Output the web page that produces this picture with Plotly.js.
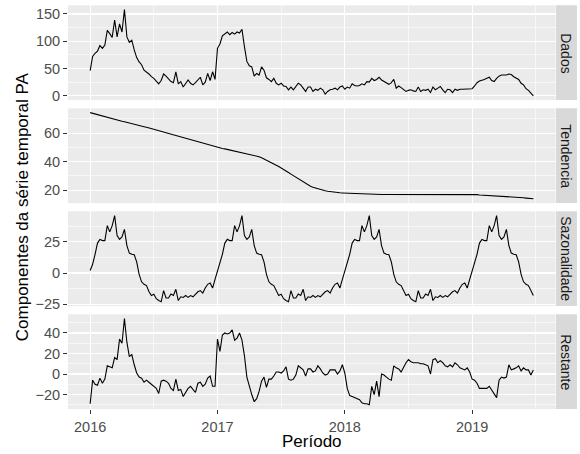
<!DOCTYPE html>
<html>
<head>
<meta charset="utf-8">
<script src="https://cdn.plot.ly/plotly-3.0.1.min.js"></script>
<style>
  html, body { margin: 0; padding: 0; background: #ffffff; }
  #chart { width: 580px; height: 454px; }
</style>
</head>
<body>
<div id="chart"></div>
<script>
// Weekly series for PA, STL decomposition (start 2016, 52 obs per year)
const startYear = 2016;
const weeksPerYear = 52;

const panelNames = ["Dados", "Tendencia", "Sazonalidade", "Restante"];

const dados = [
  46, 72, 78, 82, 92, 87, 93, 120, 114, 107,
  139, 108, 132, 117, 158, 108, 98, 102, 84, 70,
  62, 57, 47, 44, 40, 35, 32, 27, 22, 28,
  40, 36, 30, 26, 24, 44, 22, 26, 16, 23,
  29, 23, 20, 24, 30, 34, 20, 25, 41, 28,
  44, 30, 87, 95, 110, 114, 117, 112, 116, 113,
  117, 115, 122, 90, 63, 55, 53, 36, 41, 38,
  53, 47, 33, 30, 26, 32, 23, 20, 23, 18,
  17, 11, 16, 11, 18, 23, 20, 13, 8, 16,
  16, 8, 12, 10, 14, 11, 3, 8, 11, 12,
  14, 11, 16, 18, 12, 16, 14, 22, 19, 18,
  19, 22, 20, 26, 25, 32, 28, 30, 34, 29,
  26, 23, 21, 24, 30, 14, 18, 15, 11, 8,
  10, 11, 9, 8, 16, 8, 11, 10, 12, 6,
  16, 11, 14, 17, 11, 6, 12, 11, 6, 12,
  10, 12, 12, 12, 12, 12, 13, 18, 24, 27,
  28, 30, 32, 34, 28, 26, 32, 36, 38, 38,
  38, 40, 39, 35, 33, 30, 23, 20, 13, 10,
  5, 0
];

const tendencia = [
  74.4, 73.9, 73.4, 72.9, 72.4, 72.0, 71.5, 71.0, 70.6, 70.2,
  69.7, 69.3, 68.8, 68.4, 68.0, 67.5, 67.1, 66.7, 66.2, 65.8,
  65.4, 65.0, 64.5, 64.1, 63.7, 63.2, 62.8, 62.3, 61.8, 61.3,
  60.8, 60.3, 59.8, 59.3, 58.8, 58.3, 57.8, 57.3, 56.8, 56.3,
  55.8, 55.3, 54.8, 54.3, 53.8, 53.3, 52.8, 52.3, 51.8, 51.3,
  50.8, 50.4, 50.0, 49.6, 49.3, 49.0, 48.6, 48.3, 48.0, 47.6,
  47.3, 47.0, 46.6, 46.3, 45.9, 45.5, 45.1, 44.6, 44.1, 43.5,
  42.8, 42.0, 41.1, 40.2, 39.3, 38.4, 37.5, 36.6, 35.7, 34.6,
  33.5, 32.4, 31.3, 30.2, 29.0, 27.8, 26.6, 25.5, 24.5, 23.6,
  22.8, 22.1, 21.5, 20.9, 20.4, 20.0, 19.6, 19.3, 19.0, 18.8,
  18.6, 18.4, 18.2, 18.1, 18.0, 17.9, 17.8, 17.7, 17.6, 17.5,
  17.4, 17.3, 17.2, 17.1, 17.0, 17.0, 17.0, 17.0, 17.0, 17.0,
  17.0, 17.0, 17.0, 17.0, 17.0, 17.0, 17.0, 17.2, 17.4, 17.4,
  17.4, 17.4, 17.4, 17.4, 17.4, 17.4, 17.4, 17.4, 17.4, 17.4,
  17.4, 17.4, 17.4, 17.4, 17.4, 17.4, 17.4, 17.4, 17.4, 17.4,
  17.4, 17.4, 17.4, 17.4, 17.4, 17.4, 17.3, 17.1, 16.9, 16.7,
  16.6, 16.5, 16.5, 16.5, 16.4, 16.2, 16.0, 15.9, 15.8, 15.7,
  15.6, 15.6, 15.6, 15.5, 15.3, 15.1, 14.9, 14.7, 14.5, 14.3,
  14.1, 14.0
];

const sazonalidade = [
  // 2016
  2, 7, 15, 24, 27, 26, 26, 38, 33, 38,
  46, 30, 27, 29, 35, 22, 16, 15, 14.7, 9,
  -1, -7, -9, -10, -14.7, -18, -17, -20.5, -22, -23,
  -14, -20, -20, -16.8, -18, -13, -22, -19, -19.5, -18,
  -19.5, -18, -19, -17, -15, -14, -16, -12, -9, -8,
  -12, -5,
  // 2017
  2, 7, 15, 24, 27, 26, 26, 38, 33, 38,
  46, 30, 27, 29, 35, 22, 16, 15, 14.7, 9,
  -1, -7, -9, -10, -14.7, -18, -17, -20.5, -22, -23,
  -14, -20, -20, -16.8, -18, -13, -22, -19, -19.5, -18,
  -19.5, -18, -19, -17, -15, -14, -16, -12, -9, -8,
  -12, -5,
  // 2018
  2, 7, 15, 24, 27, 26, 26, 38, 33, 38,
  46, 30, 27, 29, 35, 22, 16, 15, 14.7, 9,
  -1, -7, -9, -10, -14.7, -18, -17, -20.5, -22, -23,
  -14, -20, -20, -16.8, -18, -13, -22, -19, -19.5, -18,
  -19.5, -18, -19, -17, -15, -14, -16, -12, -9, -8,
  -12, -5,
  // 2019
  2, 7, 15, 24, 27, 26, 26, 38, 33, 38,
  46, 30, 27, 29, 35, 22, 16, 15, 14.7, 9,
  -1, -7, -9, -10, -14.7, -18
];

const restante = [
  -29, -6, -10, -11, -4, -9, -5, 8, 7, 6,
  16, 14, 34, 30, 54, 31, 17, 19, 9, 1,
  -3, -4, -8, -6, -8, -10, -12, -14, -19, -7,
  -6, -7, -9, -14, -16, -5, -16, -15, -22, -18,
  -14, -12, -15, -18, -9, -8, -12, -10, -4, -2,
  -12, -12, 34, 22, 38, 40, 39, 40, 43, 33,
  35, 40, 33, 18, -3, -13, -20, -27, -24, -17,
  -7, -3, -13, -5, -5, -2, 2, 2, 1, 3,
  7, -5, -6, -5, -1, 8, 6, 4, -2, 5,
  5, 2, 3, 8, 5, 1, -1, 0, 4, 4,
  4, 0, 3, 9, 1, -14, -21, -22, -23, -24,
  -25, -28, -29, -29, -30, -12, -20, -7, -22, 0,
  -1, -3, -5, -6, 8, 6, 5, 2, 7, 11,
  14, 12, 11, 11, 11, 10, 10, 9, 8, 0,
  14, 15, 11, 13, 11, 8, 7, 9, 7, 11,
  9, 6, 5, 4, 6, 2, -5, -6, -9, -14,
  -14, -14, -14, -12, -16, -19, -23, -6, -3, -4,
  -3, 9, 4, 5, 6, 8, 3, 6, 4, 4,
  -1, 4
];

const xTickVals = [2016, 2017, 2018, 2019];
const xTickText = ["2016", "2017", "2018", "2019"];

// ---- geometry (pixels) ----
const W = 580, H = 454;
const plotLeft = 68, plotRight = 555.5;
const panelRows = [[5.3, 100.1], [108.3, 203.1], [211.3, 306.1], [314.3, 409.1]];
const stripLeft = 556, stripRight = 577;

const px = v => v / W;
const py = v => 1 - v / H;

// ggplot-like range: data range expanded by 5% on each side
function expand(arr) {
  let lo = Math.min(...arr), hi = Math.max(...arr);
  const pad = (hi - lo) * 0.05;
  return [lo - pad, hi + pad];
}

const period = dados.map((_, i) => startYear + i / weeksPerYear);
const series = [dados, tendencia, sazonalidade, restante];
const yTick = [
  { dtick: 50, minor: 25 },
  { dtick: 20, minor: 10 },
  { dtick: 25, minor: 12.5 },
  { dtick: 20, minor: 10 }
];

const FONT = "Liberation Sans, Arial, Helvetica, sans-serif";
const xr = expand(period);

const traces = series.map((s, k) => ({
  type: "scatter",
  mode: "lines",
  x: period,
  y: s,
  xaxis: k === 0 ? "x" : "x" + (k + 1),
  yaxis: k === 0 ? "y" : "y" + (k + 1),
  line: { color: "#000000", width: 1.1 },
  hoverinfo: "skip",
  showlegend: false
}));

const layout = {
  width: W,
  height: H,
  margin: { l: 0, r: 0, t: 0, b: 0 },
  paper_bgcolor: "#ffffff",
  plot_bgcolor: "#EBEBEB",
  font: { family: FONT, size: 14, color: "#4D4D4D" },
  showlegend: false,
  shapes: [],
  annotations: []
};

series.forEach((s, k) => {
  const n = k === 0 ? "" : String(k + 1);
  const [top, bottom] = panelRows[k];
  const last = k === series.length - 1;
  layout["xaxis" + n] = {
    domain: [px(plotLeft), px(plotRight)],
    range: xr,
    anchor: "y" + n,
    tickmode: "array",
    tickvals: xTickVals,
    ticktext: xTickText,
    showticklabels: last,
    ticks: last ? "outside" : "",
    ticklen: 4,
    tickwidth: 1,
    tickcolor: "#333333",
    tickfont: { family: FONT, size: 14.5, color: "#4D4D4D" },
    showgrid: true,
    gridcolor: "#FFFFFF",
    gridwidth: 1.2,
    minor: { tickmode: "linear", tick0: 2016.5, dtick: 1, showgrid: true, gridcolor: "#FFFFFF", gridwidth: 0.6, ticks: "" },
    zeroline: false,
    showline: false,
    fixedrange: true
  };
  layout["yaxis" + n] = {
    domain: [py(bottom), py(top)],
    range: expand(s),
    anchor: "x" + n,
    tickmode: "linear",
    tick0: 0,
    dtick: yTick[k].dtick,
    ticks: "outside",
    ticklen: 4,
    tickwidth: 1,
    tickcolor: "#333333",
    tickfont: { family: FONT, size: 14.5, color: "#4D4D4D" },
    showgrid: true,
    gridcolor: "#FFFFFF",
    gridwidth: 1.2,
    minor: { tickmode: "linear", tick0: 0, dtick: yTick[k].minor, showgrid: true, gridcolor: "#FFFFFF", gridwidth: 0.6, ticks: "" },
    zeroline: false,
    showline: false,
    fixedrange: true
  };
  // facet strip on the right
  layout.shapes.push({
    type: "rect", xref: "paper", yref: "paper",
    x0: px(stripLeft), x1: px(stripRight), y0: py(bottom), y1: py(top),
    fillcolor: "#D9D9D9", line: { width: 0 }, layer: "below"
  });
  layout.annotations.push({
    xref: "paper", yref: "paper",
    x: px((stripLeft + stripRight) / 2), y: py((top + bottom) / 2),
    text: panelNames[k], textangle: 90, showarrow: false,
    xanchor: "center", yanchor: "middle",
    font: { family: FONT, size: 14, color: "#1A1A1A" }
  });
});

// shared axis titles
layout.annotations.push({
  xref: "paper", yref: "paper",
  x: px(22), y: py((panelRows[0][0] + panelRows[3][1]) / 2),
  text: "Componentes da série temporal PA", textangle: -90, showarrow: false,
  xanchor: "center", yanchor: "middle",
  font: { family: FONT, size: 17, color: "#000000" }
});
layout.annotations.push({
  xref: "paper", yref: "paper",
  x: px((plotLeft + plotRight) / 2), y: py(441),
  text: "Período", showarrow: false,
  xanchor: "center", yanchor: "middle",
  font: { family: FONT, size: 17, color: "#000000" }
});

Plotly.newPlot("chart", traces, layout, { staticPlot: true, displayModeBar: false });
</script>
</body>
</html>
